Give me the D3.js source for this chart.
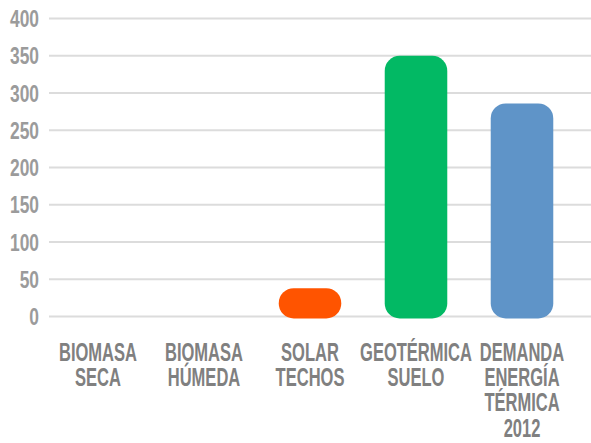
<!DOCTYPE html>
<html>
<head>
<meta charset="utf-8">
<script src="https://cdn.jsdelivr.net/npm/d3@7"></script>
<style>
  html, body { margin: 0; padding: 0; background: #ffffff; }
  svg { display: block; }
  text { font-family: "Liberation Sans", Arial, sans-serif; font-weight: bold; }
</style>
</head>
<body>
<svg id="chart" width="591" height="443"></svg>
<script>
const categories = [
  ["BIOMASA", "SECA"],
  ["BIOMASA", "HÚMEDA"],
  ["SOLAR", "TECHOS"],
  ["GEOTÉRMICA", "SUELO"],
  ["DEMANDA", "ENERGÍA", "TÉRMICA", "2012"]
];
const values = [0, 0, 38, 350, 286];
const barColors = ["#ff5400", "#ff5400", "#ff5400", "#02b964", "#5f94c8"];
const yTicks = [0, 50, 100, 150, 200, 250, 300, 350, 400];

const svg = d3.select("#chart");
const keys = categories.map((c, i) => i);

const x = d3.scaleBand().domain(keys).range([45, 575]).paddingInner(0.41).paddingOuter(0.205);
const y = d3.scaleLinear().domain([0, 400]).range([316.5, 18.5]);

function measure(str, size) {
  const t = svg.append("text").attr("font-size", size).text(str);
  const w = t.node().getComputedTextLength();
  t.remove();
  return w;
}
const tickSize = 23, labSize = 26;
const tickScale = 29 / measure("400", tickSize);
const labScale = 78 / measure("BIOMASA", labSize);

// gridlines
svg.append("g").selectAll("line").data(yTicks).join("line")
  .attr("x1", 49).attr("x2", 591)
  .attr("y1", d => y(d)).attr("y2", d => y(d))
  .attr("stroke", "#dcdcdc").attr("stroke-width", 2);

// y tick labels
const tickG = svg.append("g").selectAll("g").data(yTicks).join("g")
  .attr("transform", d => `translate(39,${y(d) + 8.5}) scale(${tickScale},1)`);
tickG.append("text")
  .attr("text-anchor", "end")
  .attr("font-size", tickSize)
  .attr("fill", "#9b9b9b")
  .text(d => d);

// bars (rounded)
const r = 15;
svg.append("g").selectAll("rect").data(keys.filter(i => values[i] > 0)).join("rect")
  .attr("x", i => x(i))
  .attr("width", x.bandwidth())
  .attr("y", i => y(values[i]))
  .attr("height", i => y(0) + 2 - y(values[i]))
  .attr("rx", r).attr("ry", r)
  .attr("fill", i => barColors[i]);

// category labels (one text per category, lines as tspans)
const labG = svg.append("g").selectAll("g").data(keys).join("g")
  .attr("transform", i => `translate(${x(i) + x.bandwidth() / 2},360.5) scale(${labScale},1)`);
labG.append("text")
  .attr("text-anchor", "middle")
  .attr("font-size", labSize)
  .attr("fill", "#808080")
  .each(function(i) {
    d3.select(this).selectAll("tspan").data(categories[i]).join("tspan")
      .attr("x", 0)
      .attr("y", (d, k) => k * 25.5)
      .text(d => d);
  });
</script>
</body>
</html>
